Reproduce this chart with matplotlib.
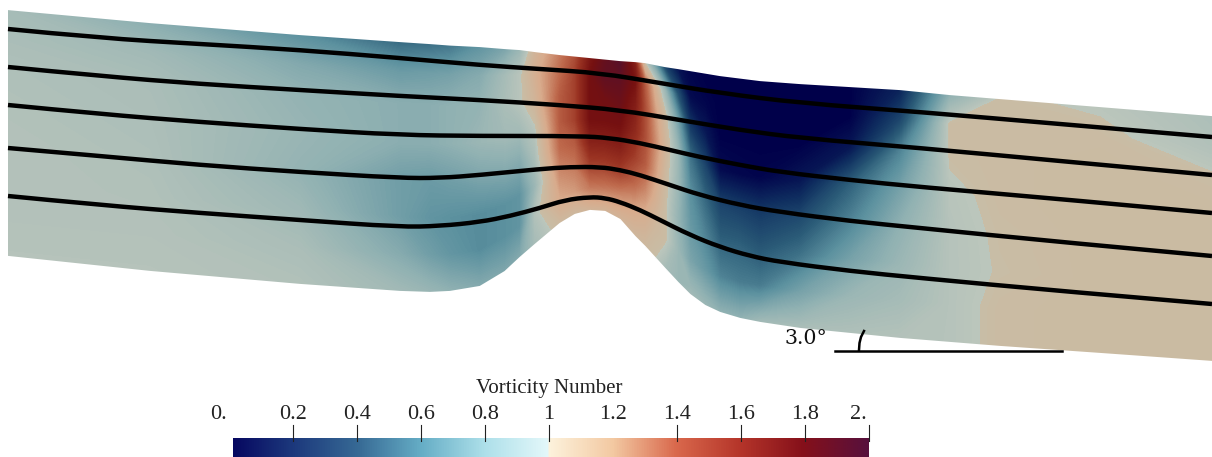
import matplotlib
matplotlib.use('Agg')
import matplotlib.pyplot as plt
from matplotlib.colors import LinearSegmentedColormap
from matplotlib.path import Path
from matplotlib.patches import PathPatch
import numpy as np

plt.rcParams['font.family'] = ['Liberation Serif', 'DejaVu Serif']

# stations along the channel and wall positions, image pixels
stations = [8, 150, 300, 400, 430, 450, 480, 505, 520, 535, 560, 575, 590, 605, 620, 635, 645, 655, 665, 678, 690, 705, 720, 740, 760, 800, 850, 900, 950, 1000, 1100, 1212]
top_wall = [10, 23, 35, 42, 44, 45.5, 47, 49, 50, 52, 55, 56.5, 58, 59.5, 61, 62, 63, 65, 67, 69, 71, 73.5, 76, 78.5, 81, 84, 87, 90, 95, 99, 107, 116]
bottom_wall = [256, 271, 284, 291, 292, 291, 286, 271, 257, 244, 223, 214, 210, 211, 219, 236, 246, 257, 268, 282, 294, 305, 312, 318, 322, 328, 333, 338, 342, 346, 353, 361]

# fraction of the way from top wall to bottom wall
eta = [0, 0.12, 0.25, 0.4, 0.55, 0.7, 0.85, 1]

# vorticity number, one row per station
vorticity = [
    [.90, .92, .94, .95, .96, .96, .96, .97],
    [.78, .88, .92, .93, .94, .95, .96, .97],
    [.60, .75, .82, .84, .82, .87, .92, .95],
    [.45, .66, .78, .78, .68, .68, .76, .88],
    [.47, .68, .78, .78, .66, .62, .68, .84],
    [.50, .70, .80, .80, .68, .60, .63, .80],
    [.62, .76, .82, .85, .72, .58, .58, .75],
    [.72, .90, .92, .88, .75, .60, .60, .73],
    [.85, .98, .98, .88, .75, .62, .62, .75],
    [1.1, 1.15, 1.1, .98, .92, .85, .95, .90],
    [1.35, 1.4, 1.45, 1.45, 1.4, 1.3, 1.2, 1.05],
    [1.5, 1.55, 1.55, 1.55, 1.45, 1.35, 1.25, 1.05],
    [1.75, 1.8, 1.8, 1.8, 1.7, 1.55, 1.35, 1.1],
    [1.88, 1.9, 1.82, 1.8, 1.7, 1.55, 1.35, 1.1],
    [1.95, 1.9, 1.85, 1.8, 1.7, 1.55, 1.3, 1.1],
    [1.7, 1.78, 1.72, 1.65, 1.55, 1.4, 1.2, 1.07],
    [1.0, 1.45, 1.5, 1.5, 1.45, 1.3, 1.15, 1.05],
    [.70, 1.15, 1.25, 1.3, 1.25, 1.15, 1.06, 1.0],
    [.30, .85, 1.05, 1.1, 1.05, 1.02, 1.02, .90],
    [.08, .35, .70, .85, .85, .82, .85, .85],
    [.02, .05, .25, .50, .60, .65, .72, .88],
    [0, .02, .10, .30, .45, .55, .65, .85],
    [0, 0, 0, .05, .30, .42, .55, .80],
    [0, 0, 0, .03, .28, .42, .52, .80],
    [0, 0, 0, .02, .25, .38, .52, .88],
    [0, 0, 0, .10, .32, .48, .70, .92],
    [0, 0, .10, .42, .55, .70, .85, .94],
    [.15, .30, .55, .70, .80, .85, .90, .96],
    [.80, 1.02, 1.01, .98, .97, .97, .97, .97],
    [1.01, 1.02, 1.02, 1.02, 1.01, 1.005, 1.02, 1.02],
    [.99, 1.02, 1.03, 1.03, 1.03, 1.03, 1.03, 1.03],
    [.93, .95, 1.01, 1.03, 1.03, 1.03, 1.03, 1.03],
]

# streamlines
line1_x = [8, 100, 200, 300, 400, 480, 540, 600, 660, 720, 800, 920, 1060, 1212]
line1_y = [29, 38, 44, 50, 58, 65, 69, 73, 83, 93, 103, 112, 124, 137]
line2_x = [8, 100, 200, 300, 400, 480, 560, 620, 680, 740, 800, 920, 1060, 1212]
line2_y = [67, 76, 84, 90, 96, 100, 105, 110, 120, 130, 138, 148, 161, 175]
line3_x = [8, 100, 200, 300, 400, 480, 580, 610, 640, 670, 700, 740, 780, 850, 920, 1060, 1212]
line3_y = [105, 114, 122, 129, 135, 136, 136, 138, 143, 150, 157, 165, 172, 180, 187, 199, 213]
line4_x = [8, 100, 200, 300, 400, 440, 480, 540, 570, 600, 620, 640, 670, 700, 740, 780, 850, 920, 1060, 1212]
line4_y = [148, 156, 165, 172, 178, 178, 175, 169, 167, 167, 170, 175, 185, 195, 205, 212, 221, 228, 242, 256]
line5_x = [8, 100, 200, 300, 400, 440, 480, 510, 540, 565, 590, 605, 620, 640, 660, 690, 720, 750, 780, 850, 920, 1060, 1212]
line5_y = [196, 205, 213, 220, 227, 226, 222, 216, 208, 200, 197, 198, 202, 210, 220, 235, 247, 256, 262, 271, 278, 291, 304]

# colour bar
bar_ticks = [0.2, 0.4, 0.6, 0.8, 1.0, 1.4, 1.6, 1.8, 2.0]
bar_labels = ['0.', '0.2', '0.4', '0.6', '0.8', '1', '1.2', '1.4', '1.6', '1.8', '2.']
bar_label_values = [-0.034, 0.2, 0.4, 0.6, 0.8, 1.0, 1.2, 1.4, 1.6, 1.8, 1.966]

bar_cmap = LinearSegmentedColormap.from_list('bar', [
    (0.0, '#05055f'), (0.1, '#1d3a7d'), (0.2, '#376a95'), (0.3, '#66aec6'),
    (0.4, '#aee0ea'), (0.4999, '#e4f8fa'), (0.5001, '#fdf3dd'), (0.6, '#f3c9a2'),
    (0.7, '#d9684c'), (0.8, '#b5352a'), (0.9, '#85101a'), (1.0, '#58103c')])

# field looks duller than the bar, near 1 it is almost grey
field_cmap = LinearSegmentedColormap.from_list('field', [
    (0.0, '#00004a'), (0.1, '#0f2f60'), (0.2, '#2b5c78'), (0.3, '#5c919f'),
    (0.4, '#90b1b2'), (0.4999, '#bcc6bc'), (0.5001, '#c8bda6'), (0.6, '#d8ab8c'),
    (0.7, '#bf6a4d'), (0.8, '#9a3322'), (0.9, '#751010'), (1.0, '#4f1030')])


def smooth_line(ax, xs, ys, **kw):
    # quadratic curves with the read points as controls, ends stay put
    pts = list(zip(xs, ys))
    verts = [pts[0]]
    codes = [Path.MOVETO]
    for i in range(1, len(pts) - 1):
        if i < len(pts) - 2:
            end = ((pts[i][0] + pts[i + 1][0]) / 2, (pts[i][1] + pts[i + 1][1]) / 2)
        else:
            end = pts[i + 1]
        verts += [pts[i], end]
        codes += [Path.CURVE3, Path.CURVE3]
    ax.add_patch(PathPatch(Path(verts, codes), fill=False, **kw))


fig = plt.figure(figsize=(12.12, 4.57), dpi=100)
ax = fig.add_axes([0, 0, 1, 1])

# build the curvilinear grid from the walls
x_grid = np.array(stations)[:, None] * np.ones(len(eta))
top = np.array(top_wall)[:, None]
bottom = np.array(bottom_wall)[:, None]
y_grid = top + (bottom - top) * np.array(eta)
levels = np.linspace(0, 2, 257)
ax.contourf(x_grid, y_grid, np.array(vorticity), levels=levels, cmap=field_cmap, extend='both')

# thin white strokes to take the jaggies off the walls
ax.plot(stations, np.array(top_wall) - 0.6, color='white', lw=1.0)
ax.plot(stations, np.array(bottom_wall) + 0.6, color='white', lw=1.0)

# streamlines
for lx, ly in [(line1_x, line1_y), (line2_x, line2_y), (line3_x, line3_y), (line4_x, line4_y), (line5_x, line5_y)]:
    smooth_line(ax, lx, ly, edgecolor='black', lw=3.2, capstyle='butt')

# slope annotation
ax.plot([835, 1062], [350.5, 350.5], color='black', lw=1.8)
ax.plot([859, 859.5, 861, 864], [350, 343, 337, 331], color='black', lw=1.8)
ax.text(785, 339, '3.0°', fontsize=14.8, ha='left', va='center', color='#111111', family='DejaVu Serif')

# colour bar, 320 px per unit, 1 sits at x=549
bar_x = lambda v: 549 + (v - 1) * 320
gradient = np.linspace(0.0125, 2, 512)[None, :]
ax.imshow(gradient, extent=[bar_x(0.0125), bar_x(2), 457, 438], aspect='auto', cmap=bar_cmap, vmin=0, vmax=2, interpolation='bilinear')
for t in bar_ticks:
    ax.plot([bar_x(t), bar_x(t)], [425, 441], color='#222222', lw=0.8)
for v, s in zip(bar_label_values, bar_labels):
    ax.text(bar_x(v), 414.5, s, fontsize=16, ha='center', va='center', color='#222222')
ax.text(549, 389, 'Vorticity Number', fontsize=15, ha='center', va='center', color='#222222')

ax.set_xlim(0, 1212)
ax.set_ylim(457, 0)
ax.axis('off')

fig.savefig('out.png', dpi=100)
